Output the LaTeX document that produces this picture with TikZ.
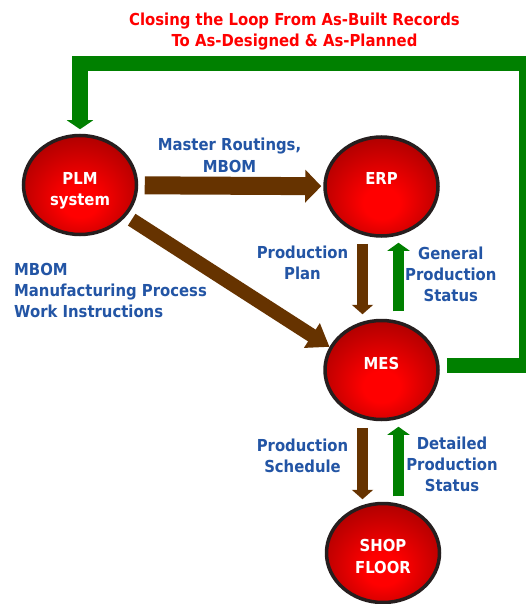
\documentclass[tikz,border=0pt]{standalone}
\usepackage{fontspec}
\setmainfont{DejaVu Sans}[FakeStretch=0.9]
\usetikzlibrary{arrows.meta,shapes.geometric,backgrounds}
\definecolor{arrbrown}{RGB}{102,51,0}
\definecolor{arrgreen}{RGB}{0,128,0}
\definecolor{lblblue}{RGB}{35,85,165}
\definecolor{ttlred}{RGB}{255,0,0}
\definecolor{rimdark}{RGB}{38,30,30}
\pgfdeclareradialshading{redball}{\pgfpoint{0bp}{-10bp}}{color(0bp)=(red); color(8bp)=(red); color(34bp)=(red!62!black); color(50bp)=(red!47!black)}
\tikzset{
  sysnode/.style={ellipse, draw=rimdark, line width=3.5pt, shade, shading=redball,
    minimum width=113pt, minimum height=99pt, inner sep=0pt, text=white,
    font=\bfseries\fontsize{16.5}{21.5}\selectfont, align=center},
  lbl/.style={text=lblblue, font=\bfseries\fontsize{16.5}{21}\selectfont, align=center, inner sep=0pt, anchor=base},
  hbrown/.style={draw=arrbrown, line width=18pt, -{Triangle[width=32pt,length=16pt]}},
  dbrown/.style={draw=arrbrown, line width=14pt, -{Triangle[width=28pt,length=21pt]}},
  vbrown/.style={draw=arrbrown, line width=11pt, -{Triangle[width=21pt,length=9.5pt]}},
  vgreen/.style={draw=arrgreen, line width=11pt, -{Triangle[width=22pt,length=8pt]}},
  gloop/.style={draw=arrgreen, line width=15.5pt, line join=miter, -{Triangle[width=26pt,length=9pt]}}
}
\begin{document}
\begin{tikzpicture}[x=1pt,y=-1pt]
\useasboundingbox (0,0) rectangle (525,604);
\node[sysnode, text height=41.4pt, text depth=0pt] (PLM) at (80,185) {PLM\\system};
\node[sysnode, text height=0pt, text depth=5pt] (ERP) at (381.5,186.5) {ERP};
\node[sysnode, text height=0pt, text depth=2pt] (MES) at (381.5,370) {MES};
\node[sysnode, text height=40pt, text depth=0pt] (SHOP) at (383,553) {SHOP\\FLOOR};
\coordinate (loopTR) at (526.5,63.5);
\begin{scope}[on background layer]
\fill[white] (0,0) rectangle (525,604);
\draw[gloop] ([xshift=7pt,yshift=4.5pt]MES.east) -| (loopTR) -| ([yshift=4.5pt]PLM.north);
\draw[hbrown, shorten <=6.5pt, shorten >=2pt] (PLM) -- (ERP);
\draw[dbrown, shorten <=6.5pt] (PLM.-34) -- (MES.156);
\draw[vbrown] ([xshift=-19pt,yshift=-6pt]ERP.south) -- ([xshift=-19pt,yshift=4.5pt]MES.north);
\draw[vgreen] ([xshift=17pt,yshift=7.5pt]MES.north) -- ([xshift=17pt,yshift=-5pt]ERP.south);
\draw[vbrown] ([xshift=-19pt,yshift=-6.5pt]MES.south) -- ([xshift=-20.5pt,yshift=2.5pt]SHOP.north);
\draw[vgreen] ([xshift=15.5pt,yshift=5.5pt]SHOP.north) -- ([xshift=17pt,yshift=-5.5pt]MES.south);
\end{scope}
\node[lbl, text=ttlred] (title) at (294.5,46.7) {Closing the Loop From As-Built Records\\To As-Designed \& As-Planned};
\node[lbl] (mr) at (229.5,172) {Master Routings,\\MBOM};
\node[lbl] (pp) at (302.5,279.3) {Production\\Plan};
\node[lbl] (gps) at (450.8,301) {General\\Production\\Status};
\node[lbl, align=left, anchor=base west] (mbom) at (14,317.7) {MBOM\\Manufacturing Process\\Work Instructions};
\node[lbl] (ps) at (302.5,472.7) {Production\\Schedule};
\node[lbl] (dps) at (452,491) {Detailed\\Production\\Status};
\end{tikzpicture}
\end{document}
